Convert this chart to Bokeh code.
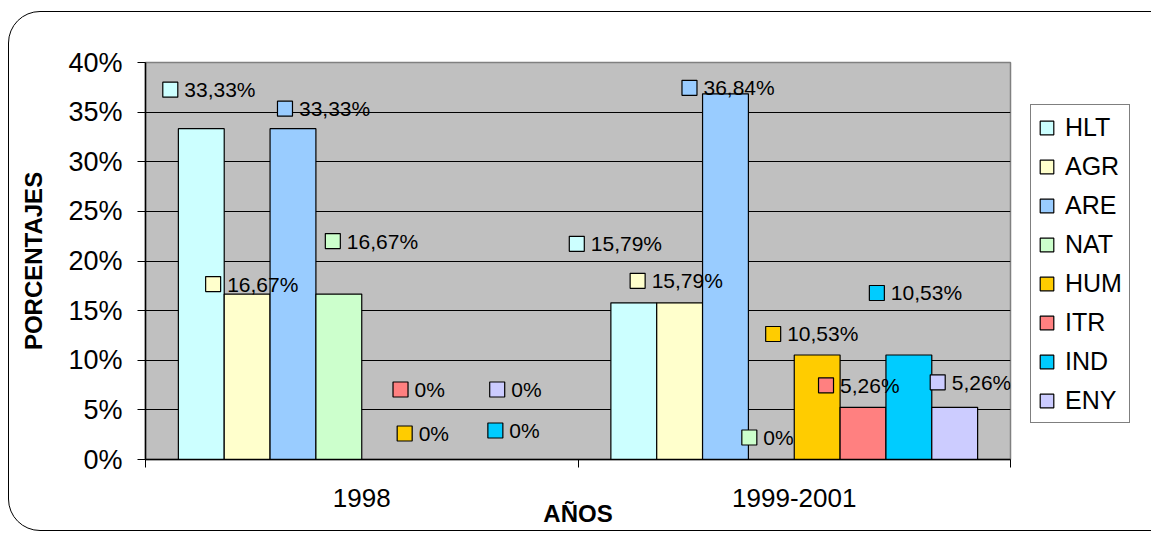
from bokeh.plotting import figure
from bokeh.models import Range1d, FixedTicker, PrintfTickFormatter, Legend, LegendItem, ColumnDataSource
from bokeh.core.properties import value
from bokeh.embed import file_html
from bokeh.resources import INLINE

# ---------------- data ----------------
years = ["1998", "1999-2001"]
series = ["HLT", "AGR", "ARE", "NAT", "HUM", "ITR", "IND", "ENY"]
colors = ["#CCFFFF", "#FFFFCC", "#99CCFF", "#CCFFCC", "#FFCC00", "#FF8080", "#00CCFF", "#CCCCFF"]
vals_1998 = [33.33, 16.67, 33.33, 16.67, 0, 0, 0, 0]
vals_1999_2001 = [15.79, 15.79, 36.84, 0, 10.53, 5.26, 10.53, 5.26]
y_ticks = [0, 5, 10, 15, 20, 25, 30, 35, 40]

# ---------------- layout ----------------
FONT = "Liberation Sans"
FRAME_W, FRAME_H = 865, 397
BAR_W = 0.106
PX_X = FRAME_W / 2.0
PX_Y = FRAME_H / 40.0
# label offsets (px) from each bar's top centre (Excel labels were hand-placed)
label_dx = [[-31, -34, -8, -6, 20, -30, 19, -25],
            [-57, -42, -36, -22, -44, -37, -32, -17]]
label_dy = [[39, 10, 20, 53, 26, 70, 29, 70],
            [59, 22, 6, 22, 21, 22, 62, 25]]

p = figure(frame_width=FRAME_W, frame_height=FRAME_H,
           x_range=Range1d(0, 2), y_range=Range1d(0, 40),
           output_backend="svg", toolbar_location=None, title=None,
           min_border_left=136, min_border_right=137, min_border_top=50, min_border_bottom=71)
p.background_fill_color = "#C0C0C0"
p.border_fill_color = None
p.outline_line_color = "#808080"
p.outline_line_width = 1.5
p.styles = {"border": "1.5px solid #000", "border-radius": "32px",
            "margin-left": "8px", "margin-top": "11px"}

all_vals = [vals_1998, vals_1999_2001]
renderers = []
for j, (s, c) in enumerate(zip(series, colors)):
    xs = [gi + 0.5 + (j - 3.5) * BAR_W for gi in range(len(years))]
    tops = [all_vals[gi][j] for gi in range(len(years))]
    src = ColumnDataSource(dict(x=xs, top=tops))
    r = p.vbar(x="x", top="top", width=BAR_W, source=src, fill_color=c,
               line_color="#000000", line_width=1.2)
    renderers.append(r)

# data labels with legend keys
for gi in range(len(years)):
    for j, (s, c) in enumerate(zip(series, colors)):
        v = all_vals[gi][j]
        bx = gi + 0.5 + (j - 3.5) * BAR_W
        lx = bx + label_dx[gi][j] / PX_X
        ly = v + label_dy[gi][j] / PX_Y
        txt = "0%" if v == 0 else ("%.2f" % v).replace(".", ",") + "%"
        p.scatter([lx], [ly], marker="square", size=15, fill_color=c, line_color="#000000", line_width=1.2)
        p.text([lx], [ly], text=[txt], x_offset=14, text_baseline="middle", text_align="left",
               text_font=value(FONT), text_font_size="21px", text_color="#000000")

# axes
p.xgrid.visible = False
p.ygrid.ticker = FixedTicker(ticks=y_ticks[1:-1])
p.ygrid.grid_line_color = "#000000"
p.ygrid.grid_line_width = 1

xa = p.xaxis[0]
xa.ticker = FixedTicker(ticks=[0.5, 1.5], minor_ticks=[0, 1, 2])
xa.major_label_overrides = {0.5: years[0], 1.5: years[1]}
xa.major_tick_out = 0
xa.major_tick_in = 0
xa.minor_tick_out = 8
xa.minor_tick_in = 0
xa.minor_tick_line_color = "#000000"
xa.axis_line_color = "#000000"
xa.axis_line_width = 1.5
xa.major_label_text_font = FONT
xa.major_label_text_font_size = "26px"
xa.major_label_text_color = "#000000"
xa.major_label_standoff = 21
xa.axis_label = "AÑOS"
xa.axis_label_text_font = FONT
xa.axis_label_text_font_style = "bold"
xa.axis_label_text_font_size = "24px"
xa.axis_label_text_color = "#000000"
xa.axis_label_standoff = -10

ya = p.yaxis[0]
ya.ticker = FixedTicker(ticks=y_ticks)
ya.formatter = PrintfTickFormatter(format="%d%%")
ya.major_tick_out = 8
ya.major_tick_in = 0
ya.minor_tick_out = 0
ya.minor_tick_in = 0
ya.major_tick_line_color = "#000000"
ya.axis_line_color = "#000000"
ya.axis_line_width = 1.5
ya.major_label_text_font = FONT
ya.major_label_text_font_size = "27px"
ya.major_label_text_color = "#000000"
ya.major_label_standoff = 15
ya.axis_label = "PORCENTAJES"
ya.axis_label_text_font = FONT
ya.axis_label_text_font_style = "bold"
ya.axis_label_text_font_size = "24px"
ya.axis_label_text_color = "#000000"
ya.axis_label_standoff = 18

legend = Legend(items=[LegendItem(label=s, renderers=[r]) for s, r in zip(series, renderers)],
                location=(20, 36))
legend.border_line_color = "#000000"
legend.border_line_width = 1
legend.background_fill_color = "#FFFFFF"
legend.background_fill_alpha = 1
legend.label_text_font = FONT
legend.label_text_font_size = "25px"
legend.label_text_color = "#000000"
legend.glyph_width = 17
legend.glyph_height = 17
legend.label_height = 30
legend.spacing = 9
legend.padding = 7
legend.label_standoff = 10
legend.margin = 0
p.add_layout(legend, "right")

open("out.html", "w").write(file_html(p, INLINE))
